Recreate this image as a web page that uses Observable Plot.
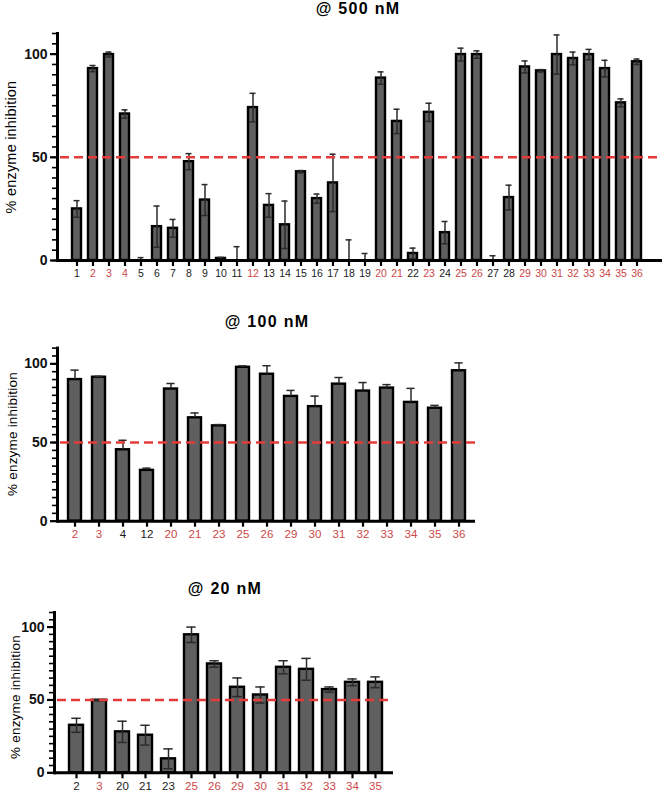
<!DOCTYPE html>
<html><head><meta charset="utf-8">
<script src="https://cdn.jsdelivr.net/npm/d3@7"></script>
<script src="https://cdn.jsdelivr.net/npm/@observablehq/plot@0.6"></script>
<style>
body{margin:0;background:#fff;font-family:"Liberation Sans",Arial,sans-serif;}
#root{position:relative;width:664px;height:792px;overflow:hidden;background:#fff;}
.title{position:absolute;transform:translate(-50%,-50%);font-weight:bold;font-size:16px;white-space:nowrap;letter-spacing:1.3px;color:#000;}
.ylab{position:absolute;transform:translate(-50%,-50%) rotate(-90deg);font-size:14px;white-space:nowrap;color:#000;letter-spacing:0.2px;}
.chart{position:absolute;left:0;}
</style></head><body><div id="root"></div>
<script>
// ---- @ 500 nM ----
const ids500 = ["1","2","3","4","5","6","7","8","9","10","11","12","13","14","15","16","17","18","19","20","21","22","23","24","25","26","27","28","29","30","31","32","33","34","35","36"];
const val500 = [25,93,99.8,71,0,16.4,15.6,47.9,29.3,1,0,74.1,26.7,17.3,43,30,37.6,0,0,88.4,67.4,3.4,71.8,13.5,99.8,99.8,0,30.5,93.8,91.9,99.8,97.9,99.8,93,76.4,96.3];
const err500 = [4,1.5,1.2,2,1.4,10,4.3,3.9,7.5,0.5,6.7,6.9,5.7,11.5,0.6,2.2,13.9,10,3.4,3,5.9,2.6,4.4,5.4,3.1,1.8,2.3,6,2.9,0.6,9.5,3.1,2.5,4,1.9,1.3];
const red500 = ["2","3","4","12","20","21","23","25","26","29","30","31","32","33","34","35","36"];

// ---- @ 100 nM ----
const ids100 = ["2","3","4","12","20","21","23","25","26","29","30","31","32","33","34","35","36"];
const val100 = [90,91.5,45.4,32.3,84,65.7,60.6,97.8,93.4,79.3,72.8,87.1,82.7,84.6,75.5,71.8,95.6];
const err100 = [6,0.6,6,1.4,3.5,3.1,0.8,0.9,5.4,3.8,6.7,4.2,5.4,2.2,8.9,1.8,5];
const red100 = ["2","3","20","21","23","25","26","29","30","31","32","33","34","35","36"];

// ---- @ 20 nM ----
const ids20 = ["2","3","20","21","23","25","26","29","30","31","32","33","34","35"];
const val20 = [32.6,49.8,28.1,25.8,9.6,94.7,74.7,58.7,53.4,72.4,71,57.1,62.1,62.1];
const err20 = [4.8,0.4,7.3,6.8,6.8,5.3,2.2,6.4,5.5,4.5,7.5,1.8,2.3,3.7];
const red20 = ["3","25","26","29","30","31","32","33","34","35"];

const titles = ["@ 500 nM","@ 100 nM","@ 20 nM"];
const yLabel = "% enzyme inhibition";
const yMajor = [0,50,100];
const yMinor = d3.range(0,111,5);

const RED_TXT = "#cc4747";
const RED_LINE = "#e53b3b";

const root = document.getElementById("root");

function addDiv(cls, text, x, y, fs) {
  const d = document.createElement("div");
  d.className = cls; d.textContent = text;
  d.style.left = x + "px"; d.style.top = y + "px";
  if (fs) d.style.fontSize = fs + "px";
  root.appendChild(d);
}

function makeChart(cfg) {
  const data = cfg.ids.map((id, i) => ({id, v: cfg.vals[i], e: cfg.errs[i]}));
  const redSet = new Set(cfg.reds);
  const plot = Plot.plot({
    width: 664, height: cfg.height,
    marginLeft: cfg.ml, marginRight: cfg.mr, marginTop: cfg.mt, marginBottom: cfg.mb,
    style: {fontFamily: '"Liberation Sans", Arial, sans-serif', background: "transparent", overflow: "visible"},
    x: {domain: cfg.ids, paddingInner: cfg.pI, paddingOuter: cfg.pO, align: cfg.align, label: null},
    y: {domain: [0,110], label: null},
    marks: [
      Plot.barY(data, {x: "id", y: "v", fill: "#5f5f5f", stroke: "#000", strokeWidth: 2.4}),
      Plot.ruleX(data, {x: "id", y1: d => cfg.sym ? Math.max(0, d.v - d.e) : d.v, y2: d => d.v + d.e, stroke: "#2a2a2a", strokeWidth: 1.5}),
      Plot.tickY(data, {x: "id", y: d => d.v + d.e, stroke: "#2a2a2a", strokeWidth: 1.5, insetLeft: cfg.cap, insetRight: cfg.cap}),
      ...(cfg.sym ? [Plot.tickY(data.filter(d => d.v - d.e > 0.5), {x: "id", y: d => d.v - d.e, stroke: "#2a2a2a", strokeWidth: 1.5, insetLeft: cfg.cap, insetRight: cfg.cap})] : []),
      Plot.ruleY([50], {stroke: RED_LINE, strokeWidth: 2.6, strokeDasharray: "9,5", insetLeft: 3}),
      Plot.axisY({ticks: yMinor, tickSize: 5, strokeWidth: 1.6, tickFormat: () => "", label: null}),
      Plot.axisY({ticks: yMajor, tickSize: 7, tickPadding: 3, strokeWidth: 2.2, fontSize: 14, fontWeight: "bold", fill: "#111", label: null}),
      Plot.axisX({tickSize: 6, tickPadding: 3, strokeWidth: 2.2, fontSize: cfg.xfs, fill: d => redSet.has(d) ? RED_TXT : "#1a1a1a", label: null}),
      Plot.frame({anchor: "left", strokeWidth: 3, stroke: "#000"}),
      Plot.ruleY([0], {strokeWidth: 3, stroke: "#000"})
    ]
  });
  const wrap = document.createElement("div");
  wrap.className = "chart";
  wrap.style.top = cfg.top + "px";
  wrap.appendChild(plot);
  root.appendChild(wrap);
}

makeChart({ids: ids500, vals: val500, errs: err500, reds: red500, top: 20, height: 270, mt: 13, mb: 30, ml: 57, mr: 2, pI: 0.45, pO: 0.48, align: 0.42, cap: 1.5, sym: true, xfs: 10.5});
makeChart({ids: ids100, vals: val100, errs: err100, reds: red100, top: 335, height: 210, mt: 12.6, mb: 24.3, ml: 57, mr: 189, pI: 0.44, pO: 0.366, align: 0.54, cap: 2.4, sym: false, xfs: 11.5});
makeChart({ids: ids20, vals: val20, errs: err20, reds: red20, top: 600, height: 192, mt: 12, mb: 19.7, ml: 54, mr: 271, pI: 0.4, pO: 0.425, align: 0.56, cap: 2.3, sym: true, xfs: 11.5});

addDiv("title", titles[0], 358, 9, 16);
addDiv("title", titles[1], 267, 322, 16);
addDiv("title", titles[2], 225, 589, 16);
addDiv("ylab", yLabel, 11, 147, 14.5);
addDiv("ylab", yLabel, 12, 434, 13.5);
addDiv("ylab", yLabel, 15, 697, 13.5);
</script>
</body></html>
